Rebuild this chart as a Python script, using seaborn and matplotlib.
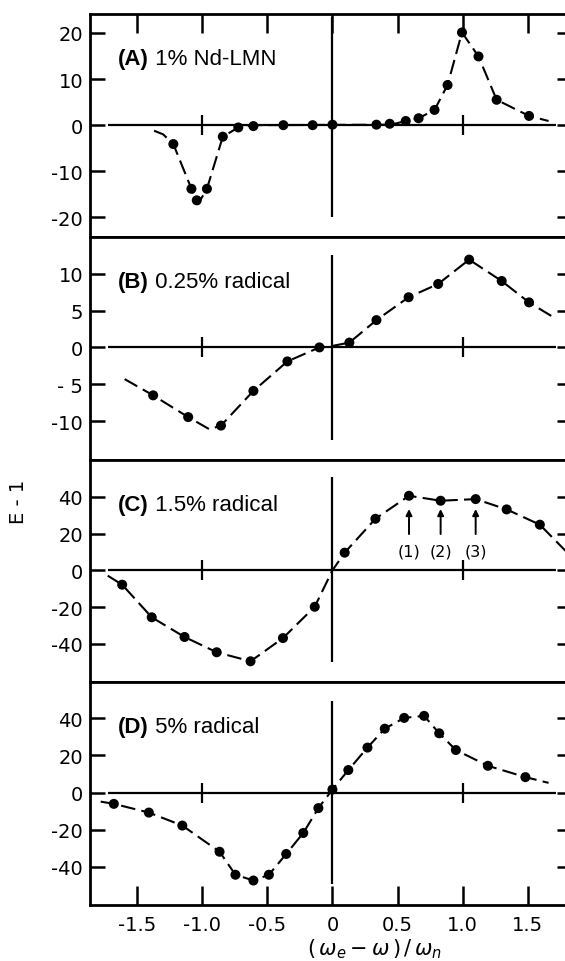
import matplotlib
matplotlib.use("Agg")
import matplotlib.pyplot as plt
import pandas as pd
import seaborn as sns

# ---- measured points (x = (w_e - w)/w_n, y = E - 1) ----
a_x = [-1.222, -1.083, -1.042, -0.964, -0.842, -0.723, -0.607, -0.377, -0.152, 0.0,
       0.338, 0.44, 0.563, 0.662, 0.784, 0.884, 0.995, 1.122, 1.261, 1.51]
a_y = [-4.1, -13.8, -16.3, -13.8, -2.5, -0.5, -0.2, 0.0, 0.0, 0.1,
       0.1, 0.3, 0.9, 1.5, 3.3, 8.7, 20.1, 14.9, 5.5, 2.0]

b_x = [-1.377, -1.108, -0.856, -0.607, -0.346, -0.1, 0.13, 0.338, 0.585, 0.812,
       1.05, 1.30, 1.51]
b_y = [-6.5, -9.45, -10.6, -5.9, -1.9, 0.0, 0.65, 3.7, 6.8, 8.6,
       11.9, 9.0, 6.1]

c_x = [-1.615, -1.388, -1.136, -0.889, -0.629, -0.38, -0.136, 0.094, 0.33, 0.588,
       0.831, 1.10, 1.338, 1.593]
c_y = [-7.8, -25.5, -36.2, -44.5, -49.4, -36.8, -19.8, 9.6, 28.0, 40.5,
       37.8, 38.7, 33.1, 24.8]

d_x = [-1.679, -1.41, -1.153, -0.867, -0.745, -0.607, -0.488, -0.355, -0.224, -0.108,
       0.0, 0.122, 0.269, 0.402, 0.551, 0.704, 0.82, 0.948, 1.194, 1.482]
d_y = [-6.1, -10.8, -17.8, -31.9, -44.3, -47.4, -44.3, -33.1, -21.8, -8.4,
       1.6, 12.1, 24.2, 34.4, 40.2, 41.3, 31.9, 22.9, 14.4, 8.3]

# ---- hand-drawn guide curves through the points ----
a_cx = [-1.37, -1.30, -1.222, -1.083, -1.03, -0.964, -0.842, -0.723, -0.60, 0.45,
        0.563, 0.662, 0.784, 0.884, 0.995, 1.122, 1.261, 1.51, 1.66]
a_cy = [-1.2, -2.0, -4.1, -13.8, -17.0, -13.8, -2.5, -0.5, 0.0, 0.1,
        0.9, 1.5, 3.3, 8.7, 20.1, 14.9, 5.5, 2.0, 0.9]

b_cx = [-1.596, -1.377, -1.108, -0.945, -0.856, -0.607, -0.346, -0.1, 0.0, 0.13,
        0.338, 0.585, 0.812, 1.05, 1.30, 1.51, 1.715]
b_cy = [-4.3, -6.5, -9.45, -11.1, -10.6, -5.9, -1.9, 0.0, 0.2, 0.65,
        3.7, 6.8, 8.6, 11.9, 9.0, 6.1, 3.9]

c_cx = [-1.726, -1.615, -1.388, -1.136, -0.889, -0.629, -0.38, -0.136, 0.0, 0.094,
        0.33, 0.588, 0.831, 1.10, 1.338, 1.593, 1.79]
c_cy = [-2.9, -7.8, -25.5, -36.2, -44.5, -49.4, -36.8, -19.8, 0.0, 9.6,
        28.0, 40.5, 37.8, 38.7, 33.1, 24.8, 10.6]

d_cx = [-1.78, -1.679, -1.41, -1.153, -0.867, -0.745, -0.607, -0.488, -0.355, -0.224,
        -0.108, 0.0, 0.122, 0.269, 0.402, 0.551, 0.704, 0.82, 0.948, 1.194, 1.482, 1.66]
d_cy = [-4.9, -6.1, -10.8, -17.8, -31.9, -44.3, -47.4, -44.3, -33.1, -21.8,
        -8.4, 1.6, 12.1, 24.2, 34.4, 40.2, 41.3, 31.9, 22.9, 14.4, 8.3, 5.2]

tags = ["(A)", "(B)", "(C)", "(D)"]
names = ["1% Nd-LMN", "0.25% radical", "1.5% radical", "5% radical"]

a_ticks = [-20, -10, 0, 10, 20]
b_ticks = [-10, -5, 0, 5, 10]
c_ticks = [-40, -20, 0, 20, 40]
d_ticks = [-40, -20, 0, 20, 40]
a_ticklabels = ["-20", "-10", "0", "10", "20"]
b_ticklabels = ["-10", "- 5", "0", "5", "10"]
c_ticklabels = ["-40", "-20", "0", "20", "40"]
d_ticklabels = ["-40", "-20", "0", "20", "40"]

x_ticks = [-1.5, -1.0, -0.5, 0, 0.5, 1.0, 1.5]
x_ticklabels = ["-1.5", "-1.0", "-0.5", "0", "0.5", "1.0", "1.5"]

# peaks marked in panel C (indices into c_x / c_y)
c_marked = [9, 10, 11]
c_marked_labels = ["(1)", "(2)", "(3)"]

sns.set_theme(style="ticks")
plt.rcParams["font.family"] = ["DejaVu Sans"]

panels = [
    (a_x, a_y, a_cx, a_cy, a_ticks, a_ticklabels, (-24.2, 24.1), (-20, 23.4)),
    (b_x, b_y, b_cx, b_cy, b_ticks, b_ticklabels, (-15.2, 15.0), (-12.5, 12.5)),
    (c_x, c_y, c_cx, c_cy, c_ticks, c_ticklabels, (-60.8, 60.2), (-50, 50.5)),
    (d_x, d_y, d_cx, d_cy, d_ticks, d_ticklabels, (-60.6, 59.4), (-49.3, 49.5)),
]

fig, axes = plt.subplots(4, 1, figsize=(5.65, 9.62), dpi=100, sharex=True)
fig.subplots_adjust(left=0.1593, right=1.0124, top=0.9844, bottom=0.0582, hspace=0)

ink = "black"
for i, (ax, (px, py, cx, cy, yt, ytl, ylim, vspan)) in enumerate(zip(axes, panels)):
    ax.set_facecolor("white")
    ax.set_xlim(-1.862, 1.84)
    ax.set_ylim(*ylim)
    for s in ax.spines.values():
        s.set_linewidth(2.0)
        s.set_color(ink)

    # reference axes drawn inside the frame
    ax.hlines(0, -1.72, 1.72, color=ink, lw=1.6, zorder=2)
    ax.vlines(0, vspan[0], vspan[1], color=ink, lw=1.6, zorder=2)
    ax.plot([-1.0, 1.0], [0, 0], ls="none", marker="|", ms=14, mew=1.6,
            color=ink, zorder=2)

    curve = pd.DataFrame({"x": cx, "y": cy})
    sns.lineplot(data=curve, x="x", y="y", ax=ax, color=ink, lw=1.5,
                 linestyle=(0, (7, 3)), sort=False, estimator=None, zorder=3)
    pts = pd.DataFrame({"x": px, "y": py})
    sns.scatterplot(data=pts, x="x", y="y", ax=ax, color=ink, s=52,
                    edgecolor="none", zorder=4)

    ax.set_xlabel("")
    ax.set_ylabel("")
    ax.set_yticks(yt)
    ax.set_yticklabels(ytl)
    ax.tick_params(axis="y", which="both", direction="in", length=11, width=1.8,
                   left=True, right=True, labelleft=True, labelright=False,
                   labelsize=14, pad=5, colors=ink)
    ax.set_xticks(x_ticks)
    ax.tick_params(axis="x", which="both", direction="in", length=14, width=1.8,
                   top=(i == 0), bottom=(i == 3), labelbottom=(i == 3),
                   labeltop=False, labelsize=14, pad=7, colors=ink)
    if i == 3:
        ax.set_xticklabels(x_ticklabels)

    t = ax.text(0.0585, 0.80, tags[i], transform=ax.transAxes, fontsize=16,
                fontweight="bold", family="Liberation Sans", va="center",
                ha="left", color=ink)
    ax.annotate(" " + names[i], xy=(1, 0.5), xycoords=t, va="center",
                ha="left", fontsize=16, family="Liberation Sans", color=ink)

# arrows and labels for the three resolved maxima in panel C
axc = axes[2]
for k, lab in zip(c_marked, c_marked_labels):
    xk = c_x[k]
    axc.annotate("", xy=(xk, 33.3), xytext=(xk, 19.7),
                 arrowprops=dict(arrowstyle="-|>", color=ink, lw=1.4,
                                 mutation_scale=9, shrinkA=0, shrinkB=0))
    axc.text(xk, 10.6, lab, ha="center", va="center", fontsize=11.5, color=ink)

fig.text(18 / 565, 1 - 502 / 962, "E - 1", rotation=90, ha="center",
         va="center", fontsize=14, color=ink)
fig.text(374 / 565, 1 - 955 / 962, r"$(\,\omega_e - \omega\,)\,/\,\omega_n$",
         ha="center", va="baseline", fontsize=15, color=ink)

fig.savefig("out.png", dpi=100, facecolor="white")
